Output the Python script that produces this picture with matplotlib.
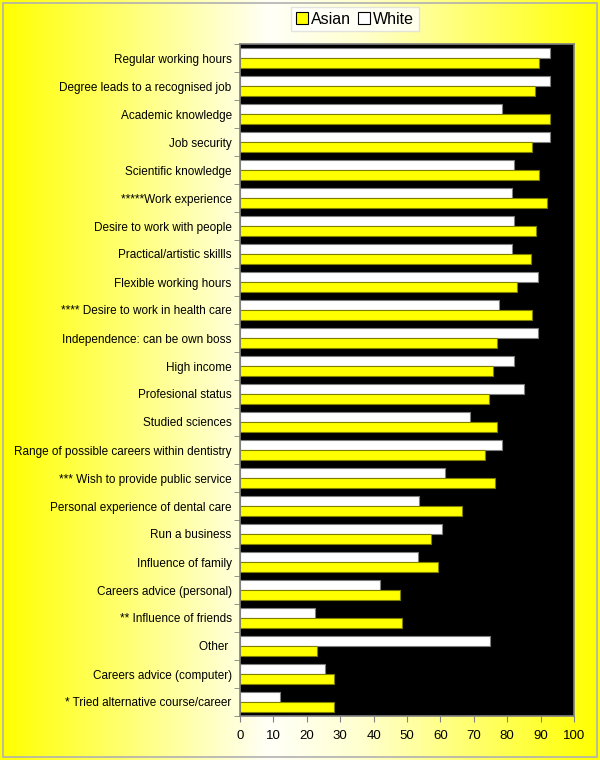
import numpy as np
import matplotlib
matplotlib.use("Agg")
import matplotlib.pyplot as plt
from matplotlib.colors import LinearSegmentedColormap
from matplotlib.patches import Rectangle

plt.rcParams['font.family'] = ['Liberation Sans', 'DejaVu Sans']

categories = [
    "Regular working hours",
    "Degree leads to a recognised job",
    "Academic knowledge",
    "Job security",
    "Scientific knowledge",
    "*****Work experience",
    "Desire to work with people",
    "Practical/artistic skillls",
    "Flexible working hours",
    "**** Desire to work in health care",
    "Independence: can be own boss",
    "High income",
    "Profesional status",
    "Studied sciences",
    "Range of possible careers within dentistry",
    "*** Wish to provide public service",
    "Personal experience of dental care",
    "Run a business",
    "Influence of family",
    "Careers advice (personal)",
    "** Influence of friends",
    "Other ",
    "Careers advice (computer)",
    "* Tried alternative course/career",
]
white = [92.7, 92.7, 78.3, 92.7, 82.0, 81.3, 82.0, 81.3, 89.1, 77.5, 89.1, 82.0,
         85.0, 68.9, 78.3, 61.3, 53.6, 60.4, 53.3, 42.0, 22.6, 74.8, 25.5, 12.0]
asian = [89.6, 88.2, 92.9, 87.3, 89.6, 91.8, 88.5, 87.0, 82.8, 87.3, 77.0, 75.7,
         74.5, 76.8, 73.3, 76.3, 66.4, 57.2, 59.4, 47.9, 48.5, 23.1, 28.1, 28.1]
xticks = list(range(0, 101, 10))

fig = plt.figure(figsize=(6, 7.6), dpi=100)

# gradient background: yellow -> white -> yellow
bg = fig.add_axes([0, 0, 1, 1])
cmap = LinearSegmentedColormap.from_list(
    "bg", [(0, "#ffff00"), (0.45, "#fffff8"), (0.6, "#ffffd0"), (1.0, "#ffff00")])
bg.imshow(np.linspace(0, 1, 600).reshape(1, -1), aspect="auto", cmap=cmap,
          extent=[0, 1, 0, 1])
bg.add_patch(Rectangle((0.005, 0.004), 0.99, 0.992, fill=False,
                       edgecolor="#b0b0b0", lw=1.2, transform=bg.transAxes))
bg.set_axis_off()

ax = fig.add_axes([240 / 600, 1 - 716 / 760, 334 / 600, 672 / 760])
ax.set_facecolor("black")

y = np.arange(len(categories))
h = 0.36
ax.barh(y - h / 2 - 0.01, white, height=h, color="white", edgecolor="#808080",
        lw=0.8, label="White")
ax.barh(y + h / 2 + 0.01, asian, height=h, color="#ffff00", edgecolor="#808000",
        lw=0.8, label="Asian")

ax.set_xlim(0, 100)
ax.set_ylim(len(categories) - 0.5, -0.5)
ax.set_xticks(xticks)
ax.set_xticklabels([str(t) for t in xticks], fontsize=9.5)
ax.set_yticks(y)
ax.set_yticklabels(categories, fontsize=8.5)
ax.tick_params(axis="y", length=0, pad=6)
ax.set_yticks(np.arange(len(categories) + 1) - 0.5, minor=True)
ax.tick_params(axis="y", which="minor", length=4, color="#808080")
ax.tick_params(axis="x", length=4, color="#808080", pad=6)
for s in ax.spines.values():
    s.set_color("#808080")
    s.set_linewidth(1.2)

handles, labels = ax.get_legend_handles_labels()
leg = fig.legend(handles[::-1], labels[::-1], loc="center",
                 bbox_to_anchor=(355 / 600, 1 - 19 / 760), ncol=2, fontsize=11.5,
                 frameon=True, fancybox=False, handlelength=0.75, handleheight=0.75,
                 handletextpad=0.2, columnspacing=0.4, borderpad=0.3)
leg.get_frame().set_edgecolor("#dddddd")
leg.get_frame().set_facecolor("white")
for p in leg.get_patches():
    p.set_edgecolor("black")

fig.savefig("out.png", dpi=100)
